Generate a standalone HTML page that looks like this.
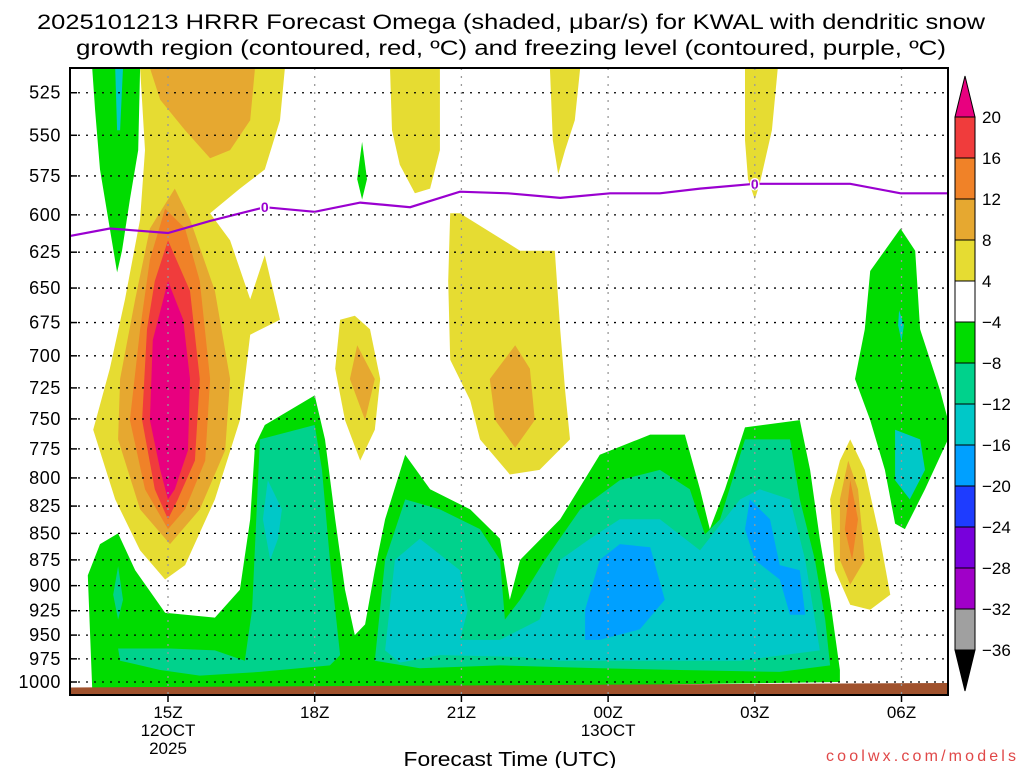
<!DOCTYPE html>
<html><head><meta charset="utf-8"><style>
body{margin:0;background:#fff;width:1024px;height:768px;overflow:hidden;font-family:"Liberation Sans",sans-serif}
svg text{font-family:"Liberation Sans",sans-serif}
</style></head><body>
<svg id="chart" width="1024" height="768" viewBox="0 0 1024 768" xmlns="http://www.w3.org/2000/svg">
<defs><clipPath id="pc"><rect x="70" y="68" width="878" height="627"/></clipPath></defs>
<text x="511" y="29" font-size="21" text-anchor="middle" textLength="948" lengthAdjust="spacingAndGlyphs">2025101213 HRRR Forecast Omega (shaded, μbar/s) for KWAL with dendritic snow</text>
<text x="511" y="55" font-size="21" text-anchor="middle" textLength="870" lengthAdjust="spacingAndGlyphs">growth region (contoured, red, ºC) and freezing level (contoured, purple, ºC)</text>
<g id="plot" clip-path="url(#pc)"></g>
<g id="grid"></g>
<rect x="70" y="68" width="878" height="627" fill="none" stroke="#000" stroke-width="2"/>
<g id="axes"></g>
<g id="cbar"></g>
<text x="510" y="766" font-size="20" text-anchor="middle" textLength="213" lengthAdjust="spacingAndGlyphs">Forecast Time (UTC)</text>
<text x="1016" y="761" font-size="16" text-anchor="end" fill="#e04848" textLength="190" lengthAdjust="spacing">coolwx.com/models</text>
</svg>
<script>
const pressureTicks=[525,550,575,600,625,650,675,700,725,750,775,800,825,850,875,900,925,950,975,1000];
const timeTicks=[15,18,21,24,27,30];
const timeLabels=["15Z","18Z","21Z","00Z","03Z","06Z"];
const levelBounds=[20,16,12,8,4,-4,-8,-12,-16,-20,-24,-28,-32,-36];
const levelColors=["#e8007f","#f03c3c","#f08228","#e6a830","#e6dc32","#ffffff","#00dc00","#00d28c","#00c8c8","#00a0ff","#1e3cff","#7800dc","#a000c8","#a0a0a0","#000000"];
const gTop=[6,13.45,511,14.43,511,14.39,559,14.22,590,14.06,624,13.96,639,13.81,609,13.61,571,13.51,535];
const tTop=[8,13.92,511,14.08,511,14.02,547,13.96,547];
const g19=[6,18.97,554,19.07,577,18.97,590,18.87,577];
const gLow=[6,13.45,1007,13.36,890,13.61,860,13.98,850,14.33,885,14.94,927,15.96,932,16.47,904,16.68,837,16.78,772,16.98,755,18,731,18.21,767,18.42,837,18.62,904,18.82,950,19.03,939,19.23,885,19.44,837,19.85,780,20.36,810,21.18,828,21.79,855,21.99,914,22.2,875,23.02,837,23.83,780,24.86,763,25.57,763,25.88,810,26.08,846,26.39,810,26.8,757,27.92,751,28.13,793,28.33,855,28.54,914,28.74,987,28.74,1000,18.31,1008];
const gRight=[6,29.98,609,30.28,624,30.38,680,30.79,727,30.95,751,30.95,767,30.48,810,30.07,846,29.87,841,29.66,793,29.36,751,29.05,718,29.25,680,29.36,638];
const tRightTop=[8,29.95,666,30.05,677,30.0,689,29.93,677];
const sLeft=[7,13.98,881,14.08,914,13.98,934,13.88,909];
const sBotLeft=[7,13.98,964,15.04,964,15.96,966,16.57,977,16.72,924,16.88,767,18,755,18.15,793,18.31,875,18.52,971,18.31,982,16.88,989,15.65,993,14.84,987,14.02,977];
const sMid=[7,19.23,977,19.44,875,19.85,819,20.56,828,21.38,846,21.79,875,21.89,934,22.2,914,22.71,875,23.43,828,24.24,802,25.06,793,25.67,810,25.98,851,26.29,837,26.8,767,27.72,767,27.92,819,28.23,875,28.44,934,28.54,982,27.51,989,25.47,987,23.83,985,21.79,982,20.15,985];
const tLeftCol=[8,17.04,802,17.33,828,17.25,855,17.09,875,16.94,837];
const tMid=[8,19.44,966,19.64,875,20.15,855,20.97,885,21.13,924,20.97,955,21.79,955,22.6,934,23.02,875,23.63,855,24.24,837,25.06,837,25.88,866,26.7,819,27.1,810,27.72,819,28.03,875,28.23,934,28.33,966,26.7,977,24.65,977,23.02,977,22.2,973,20.56,971,19.74,979];
const bLeft=[9,23.53,924,23.83,875,24.24,860,24.86,863,25.16,914,24.65,944,23.83,955,23.53,955];
const bRight=[9,26.9,819,27.31,837,27.51,880,27.92,885,28.03,929,27.72,929,27.51,894,27.0,875,26.8,846];
const tRight=[8,29.87,759,30.38,767,30.48,793,30.17,819,29.87,802];
const yPlume=[4,14.43,511,17.39,511,17.29,541,16.98,571,16.47,583,15.86,599,16.27,617,16.68,658,16.98,627,17.29,673,16.68,684,16.47,751,15.96,819,15.35,880,14.94,894,14.43,866,13.92,819,13.47,759,13.81,710,14.12,658,14.43,603,14.53,559];
const gdTop=[3,14.63,511,16.78,511,16.68,541,16.27,559,15.86,564,15.35,547,14.84,529];
const gdPlume=[3,14.63,609,15.14,583,15.45,603,15.96,652,16.27,718,16.17,776,15.65,828,15.04,860,14.43,828,13.98,767,14.02,718,14.33,658];
const orPlume=[2,14.94,596,15.35,609,15.65,645,15.86,718,15.76,785,15.35,828,15,846,14.53,810,14.22,751,14.43,680,14.63,630];
const rdPlume=[1,15,617,15.45,652,15.65,718,15.55,785,15.2,819,15,837,14.73,810,14.47,751,14.57,680,14.73,645];
const mgPlume=[0,15,645,15.31,673,15.45,718,15.41,776,15.14,810,15,819,14.84,793,14.63,751,14.69,688];
const yR=[4,28.95,767,29.25,793,29.56,855,29.77,909,29.36,924,28.95,919,28.64,885,28.54,819,28.74,785];
const gdR=[3,28.91,785,29.11,810,29.25,875,28.95,899,28.74,875,28.74,819];
const orR=[2,28.95,802,29.11,837,28.99,875,28.84,846];
const y19=[4,18.52,673,18.82,670,19.13,680,19.34,718,19.23,759,18.93,785,18.62,751,18.42,710];
const gd19=[3,18.87,692,19.23,718,19.03,751,18.72,718];
const y21=[4,20.77,599,20.97,599,22.2,624,22.91,624,23.02,680,23.12,727,23.22,767,22.6,793,21.99,797,21.38,767,21.18,735,20.77,703,20.73,645];
const gd21=[3,22.1,692,22.4,710,22.5,751,22.1,774,21.69,751,21.58,718];
const yT1=[4,19.54,511,20.56,511,20.56,559,20.36,583,20.05,586,19.74,568,19.58,547];
const yT2=[4,22.81,511,23.43,511,23.32,541,23.12,559,22.98,574,22.87,553];
const yT3=[4,26.8,511,27.47,511,27.35,547,27.1,580,27.0,590,26.86,577,26.8,553];
const freezeT=[13.0,13.81,15,15.86,16.98,18,18.93,19.95,20.97,21.95,23.02,24.04,25.06,25.88,27,27.92,28.95,29.98,30.95];
const freezeP=[614,609,612,604,595,598,592,595,585,586,589,586,586,583,580,580,580,586,586];
const freezeLabelT=[16.98,27];
const freezeLabelP=[595,580];
const groundT=[12.9,31.1];
const groundP=[1006,1001];

const NS="http://www.w3.org/2000/svg";
const X=t=>168+(t-15)*48.9;
const Y=p=>682-914.5*Math.log(1000/p);
function mk(tag,attrs,parent){const e=document.createElementNS(NS,tag);for(const k in attrs)e.setAttribute(k,attrs[k]);parent.appendChild(e);return e;}
const plot=document.getElementById('plot');
const regions=[["green-top-column",gTop],["teal-top",tTop],["green-19z",g19],["green-low-region",gLow],["green-right",gRight],["teal-right-top",tRightTop],["sea-left",sLeft],["sea-bottom-left",sBotLeft],["sea-middle",sMid],["teal-left-column",tLeftCol],["teal-middle",tMid],["blue-left",bLeft],["blue-right",bRight],["teal-right",tRight],["yellow-plume",yPlume],["gold-top",gdTop],["gold-plume",gdPlume],["orange-plume",orPlume],["red-plume",rdPlume],["magenta-plume",mgPlume],["yellow-right",yR],["gold-right",gdR],["orange-right",orR],["yellow-19z",y19],["gold-19z",gd19],["yellow-21z",y21],["gold-21z",gd21],["yellow-top-1",yT1],["yellow-top-2",yT2],["yellow-top-3",yT3]];
regions.forEach(([nm,a])=>{let pts=[];for(let i=1;i<a.length;i+=2)pts.push(X(a[i]).toFixed(1)+","+Y(a[i+1]).toFixed(1));
 const e=mk('polygon',{points:pts.join(' '),fill:levelColors[a[0]]},plot);
 
 });
{const g=mk('polygon',{points:`${X(groundT[0])},${Y(groundP[0])} ${X(groundT[1])},${Y(groundP[1])} ${X(groundT[1])},700 ${X(groundT[0])},700`,fill:"#a0522d"},plot);
 
 }
{const d=freezeT.map((t,i)=>(i?'L':'M')+X(t).toFixed(1)+','+Y(freezeP[i]).toFixed(1)).join(' ');
 const l=mk('path',{d:d,fill:'none',stroke:'#9a00d0','stroke-width':2.2},plot);
 
 
 freezeLabelT.forEach((t,i)=>{const tx=mk('text',{x:X(t),y:Y(freezeLabelP[i])+5,'font-size':14,'font-weight':'bold','text-anchor':'middle',fill:'#9a00d0',stroke:'#fff','stroke-width':3,'paint-order':'stroke'},plot);tx.textContent='0';
 
 });}
const grid=document.getElementById('grid'),axes=document.getElementById('axes');
pressureTicks.forEach(p=>{const l=mk('line',{x1:70,x2:948,y1:Y(p),y2:Y(p),stroke:'#000','stroke-width':1.3,'stroke-dasharray':'2 6'},grid);
 
 
 const tk=mk('line',{x1:70,x2:77,y1:Y(p),y2:Y(p),stroke:'#000','stroke-width':1.5},axes);
 
 
 const tx=mk('text',{x:61,y:Y(p)+6,'font-size':18,'text-anchor':'end','letter-spacing':'0.6'},axes);tx.textContent=p;
 
 });
timeTicks.forEach((t,i)=>{const l=mk('line',{x1:X(t),x2:X(t),y1:68,y2:695,stroke:'#999','stroke-width':1.3,'stroke-dasharray':'2 6'},grid);
 
 
 const tk=mk('line',{x1:X(t),x2:X(t),y1:695,y2:702,stroke:'#000','stroke-width':1.5},axes);
 
 
 const tx=mk('text',{x:X(t),y:718,'font-size':17,'text-anchor':'middle'},axes);tx.textContent=timeLabels[i];
 
 });
[[15,"12OCT",736],[15,"2025",754],[24,"13OCT",736]].forEach(([t,s,y])=>{const tx=mk('text',{x:X(t),y:y,'font-size':17,'text-anchor':'middle'},axes);tx.textContent=s;
 
 });
const cb=document.getElementById('cbar');const cx=955,cw=20,cTop=117,cStep=(650-117)/13;
levelBounds.forEach((v,i)=>{const y=cTop+i*cStep;const tx=mk('text',{x:982,y:y+6,'font-size':17},cb);tx.textContent=(v<0?'−'+(-v):v);
 
 
 if(i<levelBounds.length-1){const r=mk('rect',{x:cx,y:y,width:cw,height:cStep,fill:levelColors[i+1],stroke:'#000','stroke-width':1},cb);
 
 }});
{const a=mk('polygon',{points:`${cx},${cTop} ${cx+cw},${cTop} ${cx+cw/2},76`,fill:levelColors[0],stroke:'#000','stroke-width':1},cb);
 
 
 const b=mk('polygon',{points:`${cx},650 ${cx+cw},650 ${cx+cw/2},691`,fill:'#000',stroke:'#000','stroke-width':1},cb);
 
 }
</script>
</body></html>
